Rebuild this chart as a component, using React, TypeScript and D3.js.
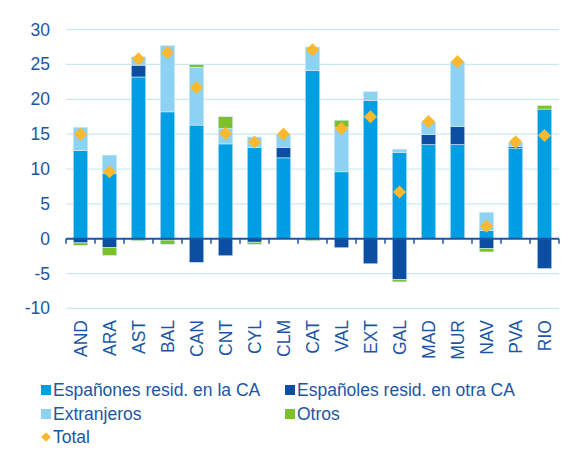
import React from "react";
import * as d3 from "d3";

const categories = ["AND","ARA","AST","BAL","CAN","CNT","CYL","CLM","CAT","VAL","EXT","GAL","MAD","MUR","NAV","PVA","RIO"];
const espCA = [12.65, 9.4, 23.2, 18.2, 16.3, 13.6, 13.1, 11.6, 24.1, 9.6, 19.8, 12.4, 13.5, 13.5, 1.15, 13.0, 18.6];
const espOtra = [-0.6, -1.25, 1.7, -0.2, -3.4, -2.45, -0.5, 1.5, 0, -1.3, -3.6, -5.85, 1.45, 2.6, -1.4, 0.2, -4.3];
const extranjeros = [3.35, 2.6, 1.2, 9.5, 8.3, 2.2, 1.5, 1.9, 3.4, 6.4, 1.3, 0.45, 1.85, 9.3, 2.65, 0.6, 0];
const otros = [-0.35, -1.15, -0.3, -0.6, 0.4, 1.7, -0.3, 0, -0.3, 1.0, 0, -0.35, 0, 0, -0.5, 0, 0.5];
const total = [15.0, 9.6, 25.8, 26.7, 21.7, 15.1, 13.85, 15.0, 27.1, 15.8, 17.5, 6.7, 16.8, 25.4, 1.8, 13.9, 14.8];
const yTicks = [30, 25, 20, 15, 10, 5, 0, -5, -10];

const seriesKeys = ["ca", "otra", "extr", "otros"];
const seriesLabels = ["Españones resid. en la CA", "Españoles resid. en otra CA", "Extranjeros", "Otros"];
const colors = ["#009fe3", "#0b4ea2", "#8ed2f3", "#7cc12b"];
const textColor = "#1b56a6";
const font = "Arial, 'Liberation Sans', sans-serif";
const fs = 17.5;

export default function App() {
  const W = 588, H = 461;
  const x0 = 66, x1 = 559;
  const x = d3.scaleBand<string>().domain(categories).range([x0, x1]).paddingInner(0.5).paddingOuter(0.25);
  const y = d3.scaleLinear().domain([-10, 30]).range([308.4, 29.6]);

  const rows = categories.map((c, i) => ({ cat: c, ca: espCA[i], otra: espOtra[i], extr: extranjeros[i], otros: otros[i] }));
  const stacked = d3.stack<any>().keys(seriesKeys).offset(d3.stackOffsetDiverging)(rows);
  const diamond = d3.symbol().type(d3.symbolDiamond2).size(110)();
  const legendDiamond = d3.symbol().type(d3.symbolDiamond2).size(60)();
  const step = x.step();
  const boundaries = d3.range(categories.length + 1).map(i => x0 + i * step);

  const legend = [
    { label: seriesLabels[0], color: colors[0], lx: 41, ly: 390 },
    { label: seriesLabels[1], color: colors[1], lx: 285, ly: 390 },
    { label: seriesLabels[2], color: colors[2], lx: 41, ly: 414 },
    { label: seriesLabels[3], color: colors[3], lx: 285, ly: 414 },
  ];

  return (
    <svg width={W} height={H} style={{ position: "absolute", left: 0, top: 0, background: "#fff" }} fontFamily={font}>
      {yTicks.filter(t => t !== 0).map(t => (
        <line key={"g" + t} x1={x0} x2={x1} y1={y(t)} y2={y(t)} stroke="#c8e8f6" strokeWidth={1.2} />
      ))}
      {yTicks.map(t => (
        <text key={"t" + t} x={50} y={y(t)} textAnchor="end" dominantBaseline="central" fontSize={fs} fill={textColor}>{t}</text>
      ))}
      {stacked.map((s, si) => (
        <g key={s.key} fill={colors[si]}>
          {s.map((d, i) => {
            const h = Math.abs(y(d[0]) - y(d[1]));
            if (h < 0.01) return null;
            return (
              <rect key={i} x={x(categories[i])!} width={x.bandwidth()} y={Math.min(y(d[0]), y(d[1]))} height={h}
                stroke="#d4edf9" strokeWidth={0.6} />
            );
          })}
        </g>
      ))}
      <line x1={x0} x2={x1} y1={y(0)} y2={y(0)} stroke="#1d54a3" strokeWidth={2} />
      {boundaries.map((bx, i) => (
        <line key={"tk" + i} x1={bx} x2={bx} y1={y(0)} y2={y(0) + 5} stroke="#1d54a3" strokeWidth={1.5} />
      ))}
      {total.map((v, i) => (
        <path key={"d" + i} d={diamond!} transform={`translate(${x(categories[i])! + x.bandwidth() / 2},${y(v)})`} fill="#fdb92d" />
      ))}
      {categories.map(c => (
        <text key={"x" + c} transform={`translate(${x(c)! + x.bandwidth() / 2},320) rotate(-90)`} textAnchor="end"
          dominantBaseline="central" fontSize={fs} fill={textColor}>{c}</text>
      ))}
      {legend.map(l => (
        <g key={l.label}>
          <rect x={l.lx} y={l.ly - 5} width={10} height={10} fill={l.color} />
          <text x={l.lx + 12} y={l.ly} dominantBaseline="central" fontSize={fs} fill={textColor}>{l.label}</text>
        </g>
      ))}
      <path d={legendDiamond!} transform="translate(46,437)" fill="#fdb92d" />
      <text x={53} y={437} dominantBaseline="central" fontSize={fs} fill={textColor}>Total</text>
    </svg>
  );
}
